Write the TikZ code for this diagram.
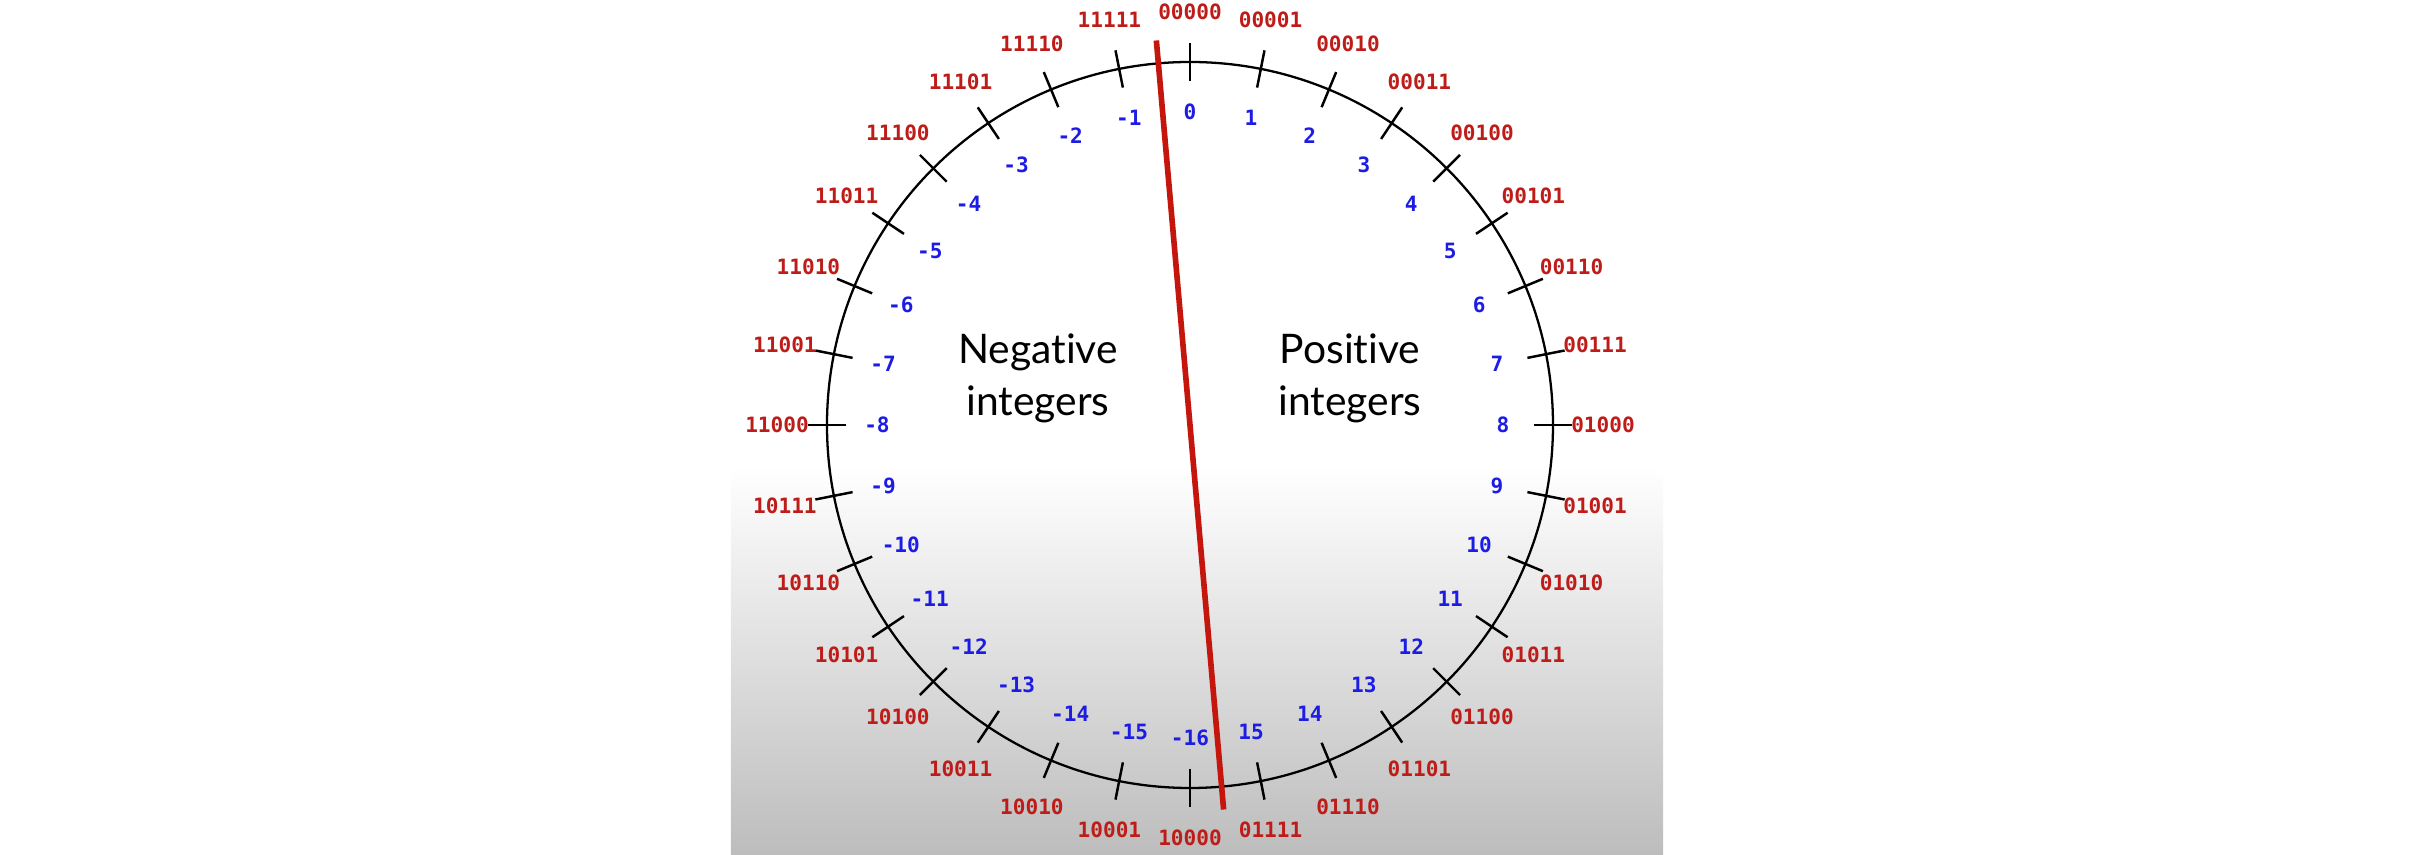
\documentclass[tikz,border=0pt]{standalone}
\usepackage{fontspec}
\setmainfont{Lato}[Ligatures=NoCommon]
\setmonofont{DejaVu Sans Mono}
\usepackage{tikz}
\definecolor{binred}{RGB}{190,28,24}
\definecolor{decblue}{RGB}{28,28,228}
\definecolor{cutred}{RGB}{196,22,12}

\begin{document}
\begin{tikzpicture}
	\tikzstyle{every node}+=[inner sep=0pt]
	\tikzstyle{bin}=[text=binred, font=\ttfamily\bfseries\fontsize{6}{7}\selectfont]
	\tikzstyle{dec}=[text=decblue, font=\ttfamily\bfseries\fontsize{6}{7}\selectfont]
	\tikzstyle{half}=[align=center, font=\fontsize{11.6}{14.8}\selectfont]
	\useasboundingbox (-11.90,-4.30) rectangle (12.23,4.25);
	% grey fade at the bottom of the slide
	\shade [top color=white, bottom color=black!26] (-4.59,-4.30) rectangle (4.73,-0.42);
	\draw [black, line width=0.65pt] (0,0) circle (3.63);
	% ticks, bit patterns and values
	\foreach \k/\b/\d [evaluate=\k as \a using 90-11.25*\k] in {
		0/00000/0, 1/00001/1, 2/00010/2, 3/00011/3,
		4/00100/4, 5/00101/5, 6/00110/6, 7/00111/7,
		8/01000/8, 9/01001/9, 10/01010/10, 11/01011/11,
		12/01100/12, 13/01101/13, 14/01110/14, 15/01111/15,
		16/10000/-16, 17/10001/-15, 18/10010/-14, 19/10011/-13,
		20/10100/-12, 21/10101/-11, 22/10110/-10, 23/10111/-9,
		24/11000/-8, 25/11001/-7, 26/11010/-6, 27/11011/-5,
		28/11100/-4, 29/11101/-3, 30/11110/-2, 31/11111/-1} {
		\draw [black, line width=0.7pt] (\a:3.44) -- (\a:3.82);
		\node [bin] (bin\k) at (\a:4.13) {\b};
		\node [dec] (dec\k) at (\a:3.13) {\d};
	}
	% the cut between the two halves
	\coordinate (cuttop) at (95:3.86);
	\coordinate (cutbot) at (-85:3.86);
	\draw [cutred, line width=1.6pt] (cuttop) -- (cutbot);
	\node [half] (neg) at (-1.52,0.47) {Negative\\integers};
	\node [half] (pos) at (1.60,0.47) {Positive\\integers};
\end{tikzpicture}
\end{document}
